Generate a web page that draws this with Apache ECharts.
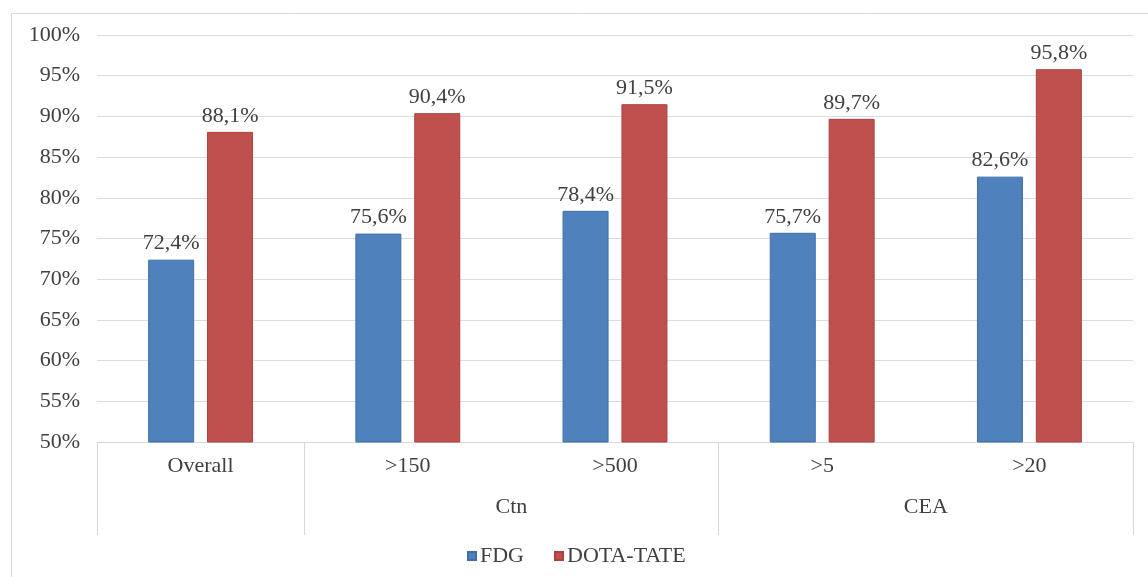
<!DOCTYPE html>
<html>
<head>
<meta charset="utf-8">
<script src="https://cdn.jsdelivr.net/npm/echarts@6/dist/echarts.min.js"></script>
<style>
html,body{margin:0;padding:0;background:#fff;}
#chart{width:1148px;height:577px;}
</style>
</head>
<body>
<div id="chart"></div>
<script>
const categories = ['Overall', '>150', '>500', '>5', '>20'];
const fdg = [72.4, 75.6, 78.4, 75.7, 82.6];
const dotatate = [88.1, 90.4, 91.5, 89.7, 95.8];
const seriesNames = ['FDG', 'DOTA-TATE'];
const groupNames = ['', 'Ctn', 'CEA'];
const groupSpans = [1, 2, 2];
const yMin = 50, yMax = 100, yStep = 5;

// group boundaries and centres, in category units
const bounds = [0];
groupSpans.forEach(s => bounds.push(bounds[bounds.length - 1] + s));
const centres = [];
const centreNames = {};
groupNames.forEach((n, i) => {
  if (n) {
    const c = (bounds[i] + bounds[i + 1]) / 2;
    centres.push(c);
    centreNames[c] = n;
  }
});

const FONT = '"Liberation Serif", "Times New Roman", serif';
const TXT = '#404040';
const FS = 22;
const fmt = v => v.toFixed(1).replace('.', ',') + '%';

const chart = echarts.init(document.getElementById('chart'), null, {renderer: 'canvas'});
chart.setOption({
  animation: false,
  backgroundColor: '#fff',
  textStyle: {fontFamily: FONT},
  graphic: [{
    type: 'rect', left: 9, top: 11, z: -1, silent: true,
    shape: {width: 1160, height: 600},
    style: {fill: 'none', stroke: '#d9d9d9', lineWidth: 1}
  }],
  grid: {left: 97, right: 15, top: 35, bottom: 135, containLabel: false},
  legend: {
    data: seriesNames, top: 540, left: 462, icon: 'rect',
    itemWidth: 8, itemHeight: 8, itemGap: 30,
    textStyle: {fontFamily: FONT, fontSize: FS, color: TXT, padding: [0, 0, 0, -1]}
  },
  xAxis: [{
    type: 'category', data: categories, position: 'bottom',
    axisLine: {show: true, lineStyle: {color: '#d9d9d9'}},
    axisTick: {show: false},
    axisLabel: {fontFamily: FONT, fontSize: FS, color: TXT, margin: 13, interval: 0}
  }, {
    type: 'value', min: 0, max: categories.length, position: 'bottom',
    axisLine: {show: false},
    splitLine: {show: false},
    axisTick: {show: true, customValues: bounds, length: 93, lineStyle: {color: '#d9d9d9'}},
    axisLabel: {customValues: centres, formatter: v => centreNames[v] || '',
      fontFamily: FONT, fontSize: FS, color: TXT, margin: 54}
  }],
  yAxis: {
    type: 'value', min: yMin, max: yMax, interval: yStep,
    axisLine: {show: false}, axisTick: {show: false},
    splitLine: {lineStyle: {color: '#dcdcdc'}},
    axisLabel: {formatter: '{value}%', fontFamily: FONT, fontSize: FS, color: TXT, margin: 17}
  },
  series: [{
    name: seriesNames[0], type: 'bar', data: fdg, xAxisIndex: 0,
    barWidth: 46, barGap: '28%',
    itemStyle: {color: '#4F81BD', borderColor: '#3f6fa8', borderWidth: 1},
    label: {show: true, position: 'top', distance: 5, formatter: p => fmt(p.value),
      fontFamily: FONT, fontSize: FS, color: TXT}
  }, {
    name: seriesNames[1], type: 'bar', data: dotatate, xAxisIndex: 0,
    barWidth: 46, barGap: '28%',
    itemStyle: {color: '#C0504D', borderColor: '#a84340', borderWidth: 1},
    label: {show: true, position: 'top', distance: 5, formatter: p => fmt(p.value),
      fontFamily: FONT, fontSize: FS, color: TXT}
  }]
});
</script>
</body>
</html>
